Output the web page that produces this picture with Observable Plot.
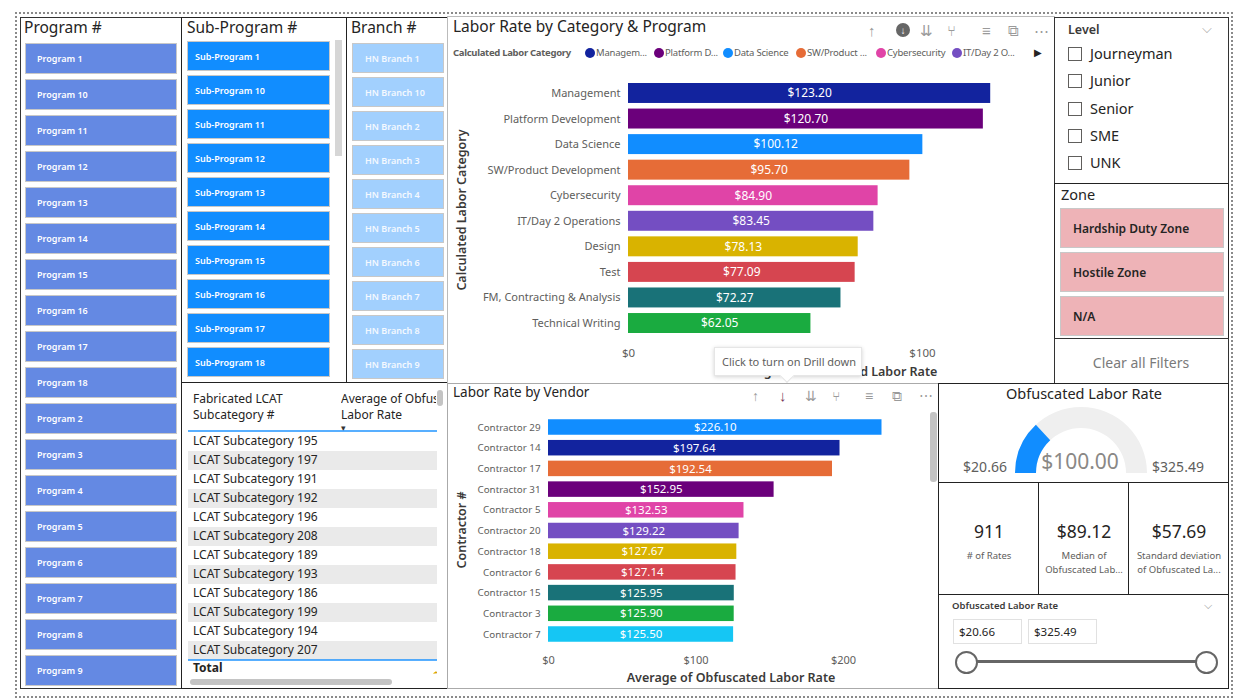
<!DOCTYPE html>
<html><head><meta charset="utf-8">
<script src="https://cdn.jsdelivr.net/npm/d3@7"></script>
<script src="https://cdn.jsdelivr.net/npm/@observablehq/plot@0.6"></script>
<style>
html,body{margin:0;padding:0}
body{width:1236px;height:700px;background:#fff;font-family:"Noto Sans",sans-serif;position:relative;overflow:hidden;color:#252423}
.a{position:absolute;box-sizing:border-box;white-space:nowrap}
.btn{position:absolute;box-sizing:border-box;border:1px solid #c8c8c8;color:#fff;font-size:9px;font-weight:600;display:flex;align-items:center}
</style></head><body>
<script>
// ---------- DATA ----------
const programItems = ["Program 1","Program 10","Program 11","Program 12","Program 13","Program 14","Program 15","Program 16","Program 17","Program 18","Program 2","Program 3","Program 4","Program 5","Program 6","Program 7","Program 8","Program 9"];
const subProgramItems = ["Sub-Program 1","Sub-Program 10","Sub-Program 11","Sub-Program 12","Sub-Program 13","Sub-Program 14","Sub-Program 15","Sub-Program 16","Sub-Program 17","Sub-Program 18"];
const branchItems = ["HN Branch 1","HN Branch 10","HN Branch 2","HN Branch 3","HN Branch 4","HN Branch 5","HN Branch 6","HN Branch 7","HN Branch 8","HN Branch 9"];
const lcatRows = ["LCAT Subcategory 195","LCAT Subcategory 197","LCAT Subcategory 191","LCAT Subcategory 192","LCAT Subcategory 196","LCAT Subcategory 208","LCAT Subcategory 189","LCAT Subcategory 193","LCAT Subcategory 186","LCAT Subcategory 199","LCAT Subcategory 194","LCAT Subcategory 207"];
const categories = ["Management","Platform Development","Data Science","SW/Product Development","Cybersecurity","IT/Day 2 Operations","Design","Test","FM, Contracting & Analysis","Technical Writing"];
const categoryRates = [123.20,120.70,100.12,95.70,84.90,83.45,78.13,77.09,72.27,62.05];
const categoryColors = ["#12239E","#6B007B","#118DFF","#E66C37","#E044A7","#744EC2","#D9B300","#D64550","#197278","#1AAB40"];
const legendLabels = ["Managem...","Platform D...","Data Science","SW/Product ...","Cybersecurity","IT/Day 2 O..."];
const vendors = ["Contractor 29","Contractor 14","Contractor 17","Contractor 31","Contractor 5","Contractor 20","Contractor 18","Contractor 6","Contractor 15","Contractor 3","Contractor 7"];
const vendorRates = [226.10,197.64,192.54,152.95,132.53,129.22,127.67,127.14,125.95,125.90,125.50];
const vendorColors = ["#118DFF","#12239E","#E66C37","#6B007B","#E044A7","#744EC2","#D9B300","#D64550","#197278","#1AAB40","#15C6F4"];
const levels = ["Journeyman","Junior","Senior","SME","UNK"];
const zones = ["Hardship Duty Zone","Hostile Zone","N/A"];
const gaugeMin = 20.66, gaugeMax = 325.49, gaugeValue = 100.00;
const kpiValues = ["911","$89.12","$57.69"];
const kpiLabels = [["# of Rates"],["Median of","Obfuscated Lab..."],["Standard deviation","of Obfuscated La..."]];
const rangeLow = "$20.66", rangeHigh = "$325.49";

// ---------- helpers ----------
const body = document.body;
function el(tag, cls, style, text){const e=document.createElement(tag); if(cls) e.className=cls; Object.assign(e.style, style||{}); if(text!=null) e.textContent=text; body.appendChild(e); return e;}
function box(x,y,w,h,style){return el("div","a",Object.assign({left:x+"px",top:y+"px",width:w+"px",height:h+"px"},style||{}));}
function txt(x,y,t,style){return el("div","a",Object.assign({left:x+"px",top:y+"px",lineHeight:"1"},style||{}),t);}
const money = d => "$" + d.toFixed(2);

// ---------- frame ----------
box(15,12,1218,686,{border:"2px dotted #8a8a8a"});
box(20,17,162,672,{border:"1px solid #333"});
box(181,17,166,366,{border:"1.5px solid #222"});
box(346,17,102,366,{border:"1.5px solid #222"});
box(181,382,267,307,{border:"1.5px solid #222"});
box(447,16,608,368,{border:"1px solid #bbb"});
box(447,383,492,306,{border:"1px solid #aaa"});
box(1054,17,175,167,{border:"1px solid #333"});
box(1054,183,175,156,{border:"1.5px solid #222"});
box(1054,338,175,46,{border:"1px solid #333"});
box(938,383,291,100,{border:"1.5px solid #222"});
box(938,482,101,113,{border:"1.5px solid #222"});
box(1038,482,91,113,{border:"1.5px solid #222"});
box(1128,482,101,113,{border:"1.5px solid #222"});
box(938,594,291,95,{border:"1.5px solid #222"});

// ---------- Program slicer ----------
txt(24,20,"Program #",{fontSize:"15.5px"});
programItems.forEach((p,i)=>{
  el("div","btn",{left:"25px",top:(43+36*i)+"px",width:"152px",height:"31px",background:"#6489E3",paddingLeft:"11px"},p);
});
// ---------- Sub-Program slicer ----------
txt(187,20,"Sub-Program #",{fontSize:"15.5px"});
subProgramItems.forEach((p,i)=>{
  el("div","btn",{left:"187px",top:(41+34*i)+"px",width:"143px",height:"30px",background:"#118DFF",paddingLeft:"7px"},p);
});
box(335,40,7,116,{background:"#d6d6d6"});
// ---------- Branch slicer ----------
txt(351,20,"Branch #",{fontSize:"15.5px"});
branchItems.forEach((p,i)=>{
  el("div","btn",{left:"352px",top:(43+34*i)+"px",width:"92px",height:"30px",background:"#A2D0FE",paddingLeft:"12px",color:"#f4f9ff"},p);
});

// ---------- Table ----------
txt(193,393,"Fabricated LCAT",{fontSize:"12px"});
txt(193,409,"Subcategory #",{fontSize:"12px"});
box(341,391,95,30,{overflow:"hidden"}).innerHTML='<div style="font-size:12px;line-height:16px;white-space:nowrap">Average of Obfus<br>Labor Rate</div>';
txt(341,423,"▾",{fontSize:"9px",color:"#333"});
box(188,430,249,2,{background:"#118DFF",opacity:0.7});
lcatRows.forEach((r,i)=>{
  const y = 432 + 19*i;
  if(i%2===1) box(188,y,249,19,{background:"#EAEAEA"});
  txt(193,y+3,r,{fontSize:"12px",color:"#252423"});
});
box(188,659,249,2,{background:"#118DFF",opacity:0.7});
txt(193,662,"Total",{fontSize:"12px",fontWeight:"700"});
box(433,662,4,12,{overflow:"hidden"}).innerHTML='<span style="font-size:11px;color:#D9A300;line-height:1">$</span>';
box(190,679,202,6,{background:"#c4c4c4",borderRadius:"3px"});
box(437,390,6,16,{background:"#c4c4c4",borderRadius:"3px"});

// ---------- Top chart ----------
txt(453,19,"Labor Rate by Category & Program",{fontSize:"15.5px"});
txt(453,48,"Calculated Labor Category",{fontSize:"9.5px",fontWeight:"700",color:"#605E5C",letterSpacing:"-0.3px"});
const legX = [585,654,723,796,876,952];
legendLabels.forEach((l,i)=>{
  box(legX[i],48,10,10,{background:categoryColors[i],borderRadius:"50%"});
  txt(legX[i]+11,48,l,{fontSize:"9.5px",color:"#605E5C",letterSpacing:"-0.2px"});
});
txt(1034,47,"▶",{fontSize:"10px",color:"#252423"});
const icTop = [[868,"↑"],[920,"⇊"],[947,"⑂"],[982,"≡"],[1008,"⧉"],[1034,"⋯"]];
icTop.forEach(([x,c])=>txt(x,23,c,{fontSize:"15px",color:"#9a9a9a"}));
box(896,23,14,14,{background:"#666",borderRadius:"50%",color:"#fff",fontSize:"10px",lineHeight:"14px",textAlign:"center"}).textContent="↓";

const catData = categories.map((c,i)=>({c, v:categoryRates[i]}));
const p1 = Plot.plot({
  width:605, height:300,
  marginLeft:180, marginRight:605-180-2.94*130, marginTop:15.2, marginBottom:29.2,
  x:{domain:[0,130], label:null},
  y:{domain:categories, padding:0, round:false, label:null},
  color:{domain:categories, range:categoryColors},
  style:{fontFamily:"'Noto Sans',sans-serif", fontSize:"11px", color:"#605E5C", background:"transparent", overflow:"visible"},
  marks:[
    Plot.gridX([0,50,100],{stroke:"#b8b8b8", strokeOpacity:1, strokeDasharray:"1.5,3", y1:-5, y2:280}),
    Plot.barX(catData,{x:"v", y:"c", fill:"c", insetTop:2.8, insetBottom:2.8}),
    Plot.text(catData,{x:d=>d.v/2, y:"c", text:d=>money(d.v), fill:"white", fontSize:12}),
    Plot.axisX({ticks:[0,100], tickFormat:d=>"$"+d, tickSize:0, tickPadding:13, label:null, fontSize:11.5}),
    Plot.axisY({tickSize:0, tickPadding:8, label:null, fontSize:11})
  ]
});
Object.assign(p1.style,{position:"absolute",left:"448px",top:"65px"});
body.appendChild(p1);
txt(462,210,"Calculated Labor Category",{fontSize:"12.5px",transform:"translate(-50%,-50%) rotate(-90deg)",fontWeight:"600",color:"#3b3a39"});
txt(833,372,"Average of Obfuscated Labor Rate",{fontSize:"12.5px",transform:"translate(-50%,-50%)",fontWeight:"600",color:"#3b3a39"});
// tooltip
box(714,347,148,29,{background:"#fff",border:"1px solid #e6e6e6",boxShadow:"0 1px 4px rgba(0,0,0,0.18)"});
txt(722,356,"Click to turn on Drill down",{fontSize:"11px",color:"#605E5C"});
box(782,371,10,10,{background:"#fff",transform:"rotate(45deg)",borderRight:"1px solid #e6e6e6",borderBottom:"1px solid #e6e6e6"});

// ---------- Bottom chart ----------
txt(453,386,"Labor Rate by Vendor",{fontSize:"13.5px"});
const icBot = [[752,"↑"],[805,"⇊"],[832,"⑂"],[865,"≡"],[892,"⧉"],[919,"⋯"]];
icBot.forEach(([x,c])=>txt(x,389,c,{fontSize:"14px",color:"#9a9a9a"}));
txt(779,388,"↓",{fontSize:"15px",color:"#7a3a5a"});
box(930,412,7,70,{background:"#c4c4c4",borderRadius:"3px"});

const venData = vendors.map((c,i)=>({c, v:vendorRates[i]}));
const p2 = Plot.plot({
  width:490, height:270,
  marginLeft:100, marginRight:490-100-1.475*240, marginTop:11.65, marginBottom:30.65,
  x:{domain:[0,240], label:null},
  y:{domain:vendors, padding:0, round:false, label:null},
  color:{domain:vendors, range:vendorColors},
  style:{fontFamily:"'Noto Sans',sans-serif", fontSize:"10px", color:"#605E5C", background:"transparent", overflow:"visible"},
  marks:[
    Plot.gridX([0,100,200],{stroke:"#b8b8b8", strokeOpacity:1, strokeDasharray:"1.5,3", y1:-5, y2:250}),
    Plot.barX(venData,{x:"v", y:"c", fill:"c", insetTop:2.6, insetBottom:2.6}),
    Plot.text(venData,{x:d=>d.v/2, y:"c", text:d=>money(d.v), fill:"white", fontSize:11.5}),
    Plot.axisX({ticks:[0,100,200], tickFormat:d=>"$"+d, tickSize:0, tickPadding:11, label:null, fontSize:11}),
    Plot.axisY({tickSize:0, tickPadding:8, label:null, fontSize:9.8})
  ]
});
Object.assign(p2.style,{position:"absolute",left:"448px",top:"405px"});
body.appendChild(p2);
txt(462,530,"Contractor #",{fontSize:"12.5px",transform:"translate(-50%,-50%) rotate(-90deg)",fontWeight:"600",color:"#3b3a39"});
txt(731,678,"Average of Obfuscated Labor Rate",{fontSize:"12.5px",transform:"translate(-50%,-50%)",fontWeight:"600",color:"#3b3a39"});

// ---------- Level slicer ----------
txt(1068,24,"Level",{fontSize:"12.5px",fontWeight:"600",color:"#3b3a39"});
txt(1202,22,"⌵",{fontSize:"13px",color:"#9a9a9a"});
levels.forEach((l,i)=>{
  const y = 54 + 27.3*i;
  box(1068,y-7,14,14,{border:"1px solid #605E5C",background:"#fff"});
  txt(1090,y-8,l,{fontSize:"14.5px",color:"#252423"});
});
// ---------- Zone slicer ----------
txt(1061,187,"Zone",{fontSize:"14.5px"});
zones.forEach((z,i)=>{
  el("div","btn",{left:"1060px",top:(208+44*i)+"px",width:"164px",height:"40px",background:"#EEB3B7",color:"#252423",fontSize:"12px",fontWeight:"600",paddingLeft:"12px"},z);
});
txt(1141,363,"Clear all Filters",{fontSize:"14px",color:"#7a7a7a",transform:"translate(-50%,-50%)"});

// ---------- Gauge ----------
txt(1084,393,"Obfuscated Labor Rate",{fontSize:"14.5px",transform:"translate(-50%,-50%)"});
const gsvg = d3.create("svg").attr("width",291).attr("height",100)
  .style("position","absolute").style("left","938px").style("top","383px");
const ang = d3.scaleLinear().domain([gaugeMin,gaugeMax]).range([-Math.PI/2, Math.PI/2]);
const arc = d3.arc().innerRadius(45).outerRadius(66);
const g = gsvg.append("g").attr("transform","translate(143,90)");
g.append("path").attr("d",arc({startAngle:ang(gaugeMin),endAngle:ang(gaugeMax)})).attr("fill","#EFEFEF");
g.append("path").attr("d",arc({startAngle:ang(gaugeMin),endAngle:ang(gaugeValue)})).attr("fill","#118DFF");
body.appendChild(gsvg.node());
txt(985,467,money(gaugeMin),{fontSize:"14px",color:"#605E5C",transform:"translate(-50%,-50%)"});
txt(1178,467,money(gaugeMax),{fontSize:"14px",color:"#605E5C",transform:"translate(-50%,-50%)"});
txt(1080,461,money(gaugeValue),{fontSize:"21px",color:"#8a8886",transform:"translate(-50%,-50%)"});

// ---------- KPI cards ----------
const kpiCx = [989,1084,1179];
kpiValues.forEach((v,i)=>{
  txt(kpiCx[i],532,v,{fontSize:"17.5px",transform:"translate(-50%,-50%)",color:"#252423"});
  kpiLabels[i].forEach((l,j)=>txt(kpiCx[i],556+14*j,l,{fontSize:"9.5px",color:"#605E5C",transform:"translate(-50%,-50%)"}));
});

// ---------- Range slicer ----------
txt(952,601,"Obfuscated Labor Rate",{fontSize:"9.5px",fontWeight:"600",color:"#3b3a39"});
txt(1204,599,"⌵",{fontSize:"11px",color:"#9a9a9a"});
box(953,619,69,25,{border:"1px solid #e1e1e1"});
txt(959,626,rangeLow,{fontSize:"11.5px"});
box(1028,619,69,25,{border:"1px solid #e1e1e1"});
txt(1034,626,rangeHigh,{fontSize:"11.5px"});
box(966,660,240,3,{background:"#666"});
box(955,651,23,23,{border:"2px solid #666",borderRadius:"50%",background:"#fff"});
box(1195,651,23,23,{border:"2px solid #666",borderRadius:"50%",background:"#fff"});
</script>
</body></html>
